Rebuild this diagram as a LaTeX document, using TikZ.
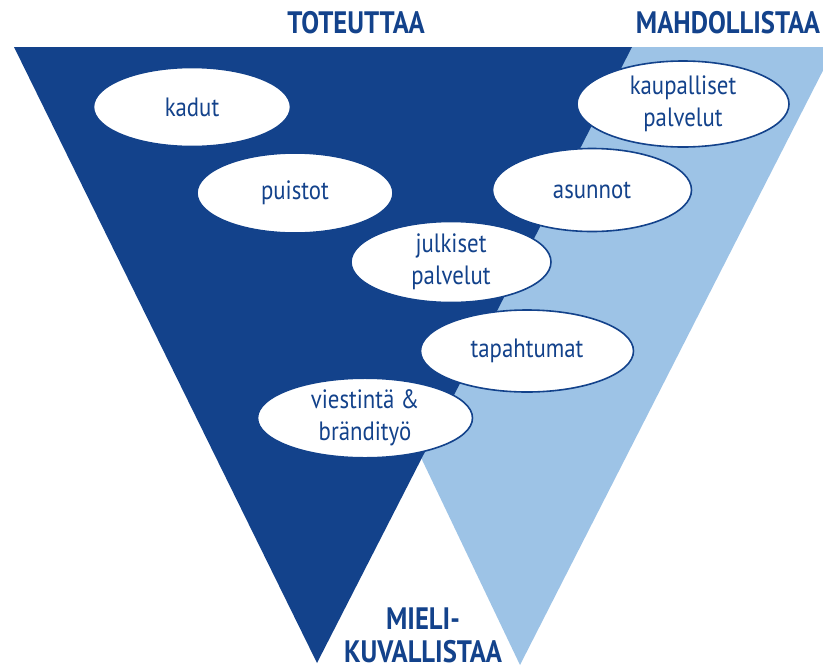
\documentclass[tikz,border=0pt]{standalone}
\usepackage{fontspec}
\setmainfont{PT Sans}[FakeStretch=0.86]
\usetikzlibrary{positioning, shapes.geometric}
\definecolor{darkblue}{RGB}{19,66,139}
\definecolor{lightblue}{RGB}{157,195,230}

\begin{document}
\begin{tikzpicture}[x=1pt, y=-1pt,
    bubble/.style={ellipse, draw=darkblue, line width=1.6pt, fill=white, inner sep=0pt,
                   text=darkblue, align=center, font=\fontsize{26.5}{32}\selectfont},
    heading/.style={text=darkblue, inner sep=0pt, align=center,
                    font=\fontsize{31}{33}\selectfont\bfseries}]
    \useasboundingbox (0,0) rectangle (823,670);
    \clip (0,0) rectangle (823,670);

    %% triangles
    \fill[lightblue] (225,47) -- (835,47) -- (520,665) -- cycle;
    \fill[darkblue] (14,47) -- (632,47) -- (317,663) -- cycle;

    %% headings
    \node[heading] (tot) at (356,22.5) {TOTEUTTAA};
    \node[heading] (mah) at (728,22.5) {MAHDOLLISTAA};
    \node[heading, anchor=north] (mie) at (423,608) {MIELI-\\KUVALLISTAA};

    %% bubbles
    \node[bubble, minimum width=197pt, minimum height=79pt] (kadut) at (192,107) {kadut};
    \node[bubble, minimum width=196pt, minimum height=80pt] (puistot) at (295,193) {puistot};
    \node[bubble, minimum width=200pt, minimum height=81pt] (julk) at (451,262) {julkiset\\palvelut};
    \node[bubble, minimum width=212pt, minimum height=86pt] (kaup) at (683,104) {kaupalliset\\palvelut};
    \node[bubble, minimum width=199pt, minimum height=83pt] (asun) at (592,190) {asunnot};
    \node[bubble, minimum width=213pt, minimum height=82pt] (tapa) at (527,351) {tapahtumat};
    \node[bubble, minimum width=215pt, minimum height=77pt] (vies) at (365,418) {viestintä \&\\brändityö};
\end{tikzpicture}
\end{document}
